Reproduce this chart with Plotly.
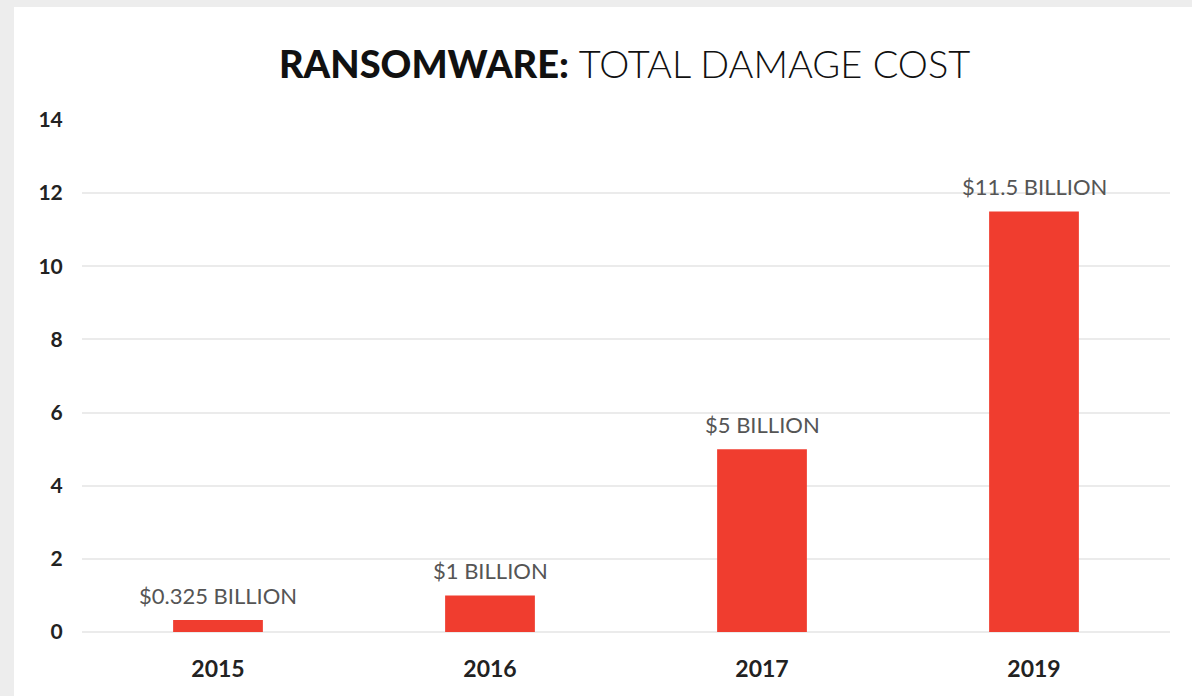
import plotly.graph_objects as go

years = ["2015", "2016", "2017", "2019"]
damage_billion = [0.325, 1, 5, 11.5]
labels = ["$0.325 BILLION", "$1 BILLION", "$5 BILLION", "$11.5 BILLION"]
y_ticks = [0, 2, 4, 6, 8, 10, 12, 14]

W, H = 1192, 696
ml, mr, mt, mb = 82, 22, 120, 64
pw, ph = W - ml - mr, H - mt - mb

fig = go.Figure(go.Bar(
    x=years, y=damage_billion,
    marker=dict(color="#f03d2f", line=dict(width=0)),
    hoverinfo="skip",
))

# category axis: annotations positioned by category index
for i, (val, lab) in enumerate(zip(damage_billion, labels)):
    fig.add_annotation(x=i, y=val, text=lab, showarrow=False,
                       xanchor="center", yanchor="bottom", yshift=9,
                       font=dict(family="Lato", size=22, color="#555555"))

fig.add_shape(type="rect", xref="paper", yref="paper",
              x0=(14 - ml) / pw, x1=(W - ml) / pw,
              y0=(mt + ph - H) / ph, y1=(mt + ph - 7) / ph,
              fillcolor="white", line=dict(width=0), layer="below")

fig.update_layout(
    width=W, height=H,
    margin=dict(l=ml, r=mr, t=mt, b=mb),
    paper_bgcolor="#ededed", plot_bgcolor="rgba(0,0,0,0)",
    bargap=0.67,
    showlegend=False,
    title=dict(
        text='<span style="font-weight:900">RANSOMWARE:</span> <span style="font-weight:300">TOTAL DAMAGE COST</span>',
        x=0.524, xref="container", xanchor="center",
        y=1 - 65 / H, yref="container", yanchor="middle",
        font=dict(family="Lato", size=38, color="#111111"),
    ),
    xaxis=dict(
        type="category", categoryorder="array", categoryarray=years,
        range=[-0.5, len(years) - 0.5],
        showgrid=False, showline=False,
        ticks="outside", ticklen=16, tickcolor="rgba(0,0,0,0)",
        tickfont=dict(family="Lato", size=23, color="#222222", weight="bold"),
    ),
    yaxis=dict(
        range=[0, 14], tickvals=y_ticks,
        showgrid=True, gridcolor="#ebebeb", gridwidth=2,
        zeroline=True, zerolinecolor="#ebebeb", zerolinewidth=2,
        showline=False, ticks="outside", ticklen=14, tickcolor="rgba(0,0,0,0)",
        tickfont=dict(family="Lato", size=21, color="#222222", weight="bold"),
    ),
)

fig.write_html("out.html", config={"displayModeBar": False},
               post_script="document.body.style.margin='0';")
